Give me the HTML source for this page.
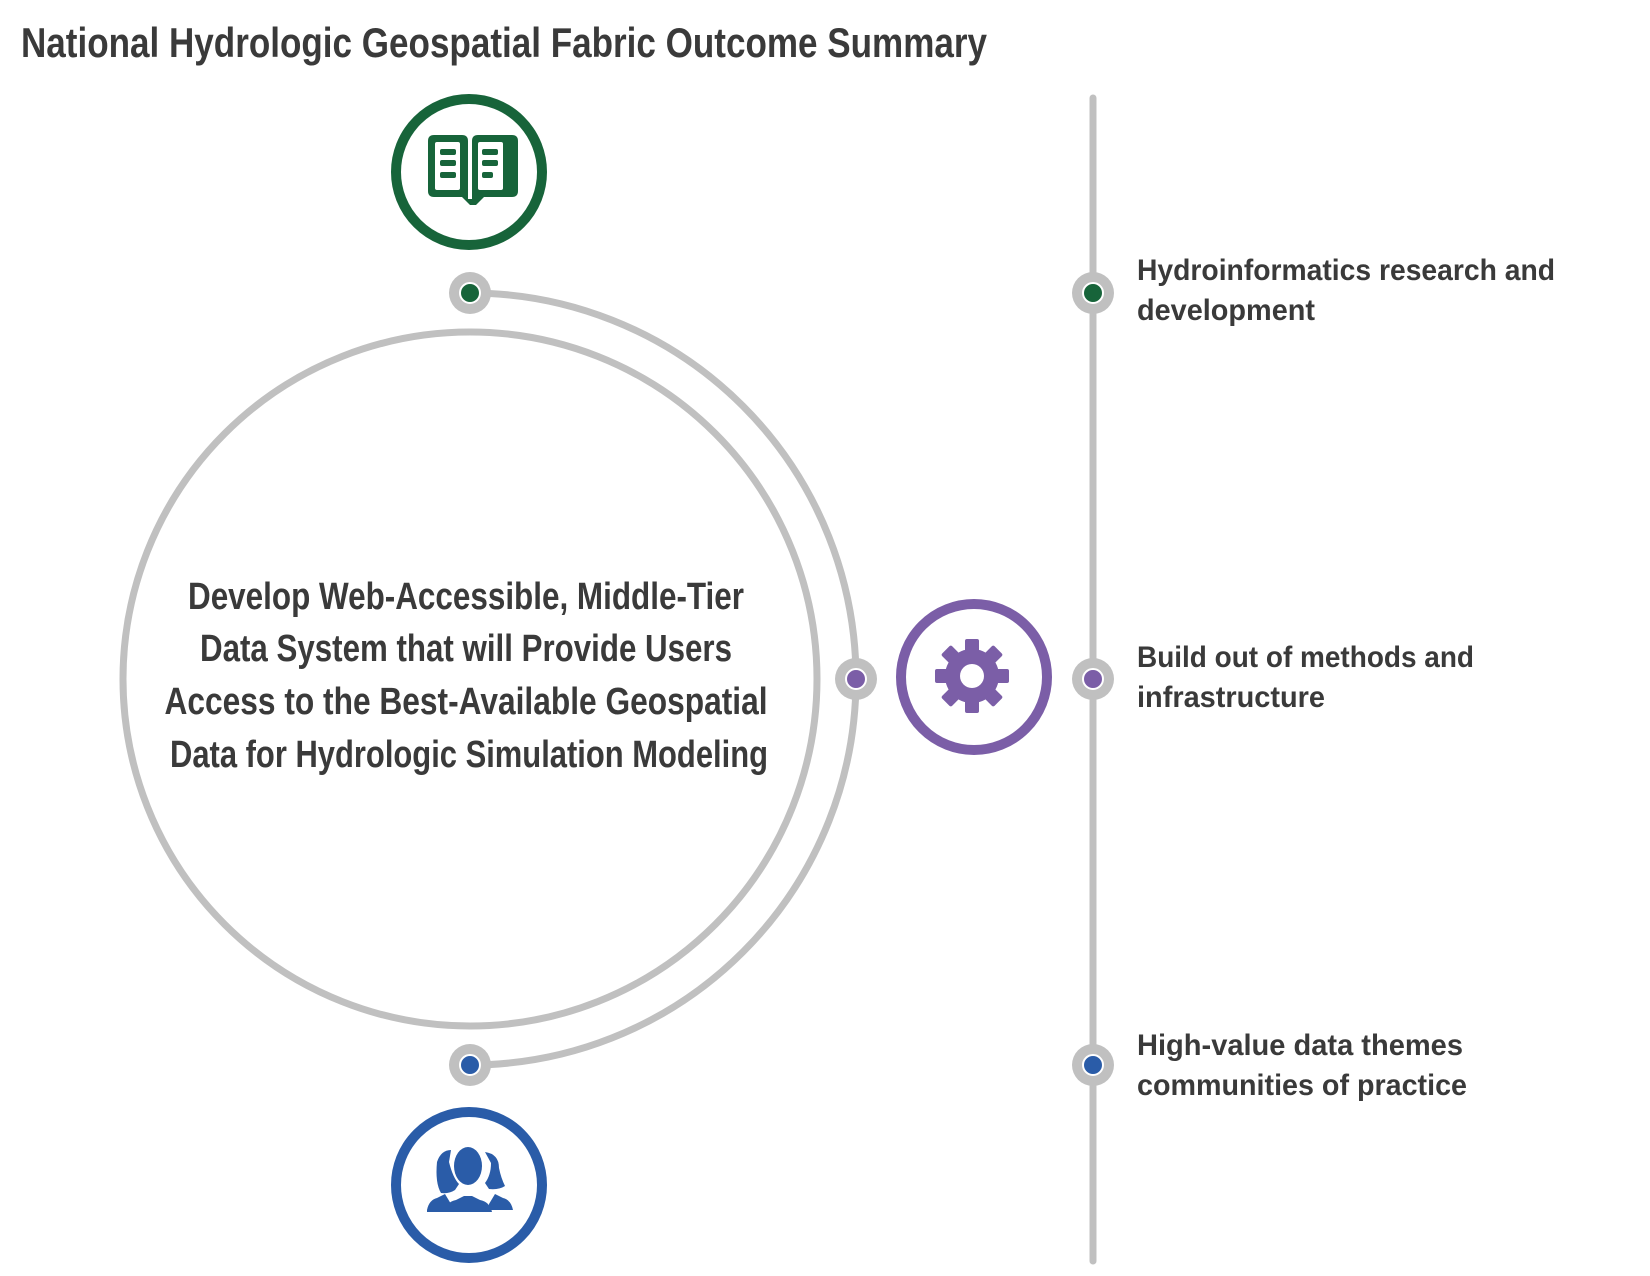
<!DOCTYPE html>
<html><head><meta charset="utf-8"><style>
html,body{margin:0;padding:0;background:#fff;}
svg{display:block;}
text{font-family:"Liberation Sans Narrow","Liberation Sans",sans-serif;fill:#3a3a3a;}
</style></head><body>
<svg width="1650" height="1276" viewBox="0 0 1650 1276" xmlns="http://www.w3.org/2000/svg">
<text x="21" y="57" font-size="42" font-weight="bold" textLength="966" lengthAdjust="spacingAndGlyphs">National Hydrologic Geospatial Fabric Outcome Summary</text>

<line x1="1093" y1="98" x2="1093" y2="1261" stroke="#c0c0c0" stroke-width="7" stroke-linecap="round"/>

<circle cx="470" cy="679" r="347" fill="none" stroke="#c0c0c0" stroke-width="7"/>
<path d="M470 293 A386 386 0 0 1 470 1065" fill="none" stroke="#c0c0c0" stroke-width="7"/>

<g>
<circle cx="470" cy="293" r="21" fill="#c0c0c0"/><circle cx="470" cy="293" r="10" fill="#17643a" stroke="#fff" stroke-width="2"/>
<circle cx="856" cy="679" r="21" fill="#c0c0c0"/><circle cx="856" cy="679" r="10" fill="#7b5ea7" stroke="#fff" stroke-width="2"/>
<circle cx="470" cy="1065" r="21" fill="#c0c0c0"/><circle cx="470" cy="1065" r="10" fill="#2a5ca8" stroke="#fff" stroke-width="2"/>
<circle cx="1093" cy="293" r="21" fill="#c0c0c0"/><circle cx="1093" cy="293" r="10" fill="#17643a" stroke="#fff" stroke-width="2"/>
<circle cx="1093" cy="679" r="21" fill="#c0c0c0"/><circle cx="1093" cy="679" r="10" fill="#7b5ea7" stroke="#fff" stroke-width="2"/>
<circle cx="1093" cy="1065" r="21" fill="#c0c0c0"/><circle cx="1093" cy="1065" r="10" fill="#2a5ca8" stroke="#fff" stroke-width="2"/>
</g>

<circle cx="469" cy="172" r="73" fill="#fff" stroke="#17643a" stroke-width="10"/>
<g fill="#17643a">
<path d="M428 135 h34 q6 0 6 6 v58 h4 v-58 q0 -6 6 -6 h34 q6 0 6 6 v50 q0 6 -6 6 h-28 l-8 8 h-6 l-8 -8 h-28 q-6 0 -6 -6 v-50 q0 -6 6 -6z"/>
</g>
<g fill="#fff">
<rect x="435" y="142" width="25" height="48" rx="2"/>
<rect x="478" y="142" width="25" height="48" rx="2"/>
</g>
<g fill="#17643a">
<rect x="440" y="149" width="16" height="6" rx="2"/><rect x="440" y="160" width="16" height="6" rx="2"/><rect x="440" y="172" width="16" height="6" rx="2"/>
<rect x="482" y="149" width="16" height="6" rx="2"/><rect x="482" y="160" width="16" height="6" rx="2"/><rect x="482" y="172" width="11" height="6" rx="2"/>
</g>

<circle cx="974" cy="677" r="73" fill="#fff" stroke="#7b5ea7" stroke-width="10"/>
<g transform="translate(972,676)" fill="#7b5ea7">
<circle r="27"/>
<g>
<rect x="-7" y="-37" width="14" height="14" rx="2"/>
<rect x="-7" y="-37" width="14" height="14" rx="2" transform="rotate(45)"/>
<rect x="-7" y="-37" width="14" height="14" rx="2" transform="rotate(90)"/>
<rect x="-7" y="-37" width="14" height="14" rx="2" transform="rotate(135)"/>
<rect x="-7" y="-37" width="14" height="14" rx="2" transform="rotate(180)"/>
<rect x="-7" y="-37" width="14" height="14" rx="2" transform="rotate(225)"/>
<rect x="-7" y="-37" width="14" height="14" rx="2" transform="rotate(270)"/>
<rect x="-7" y="-37" width="14" height="14" rx="2" transform="rotate(315)"/>
</g>
<circle r="12" fill="#fff"/>
</g>

<circle cx="469" cy="1185" r="73" fill="#fff" stroke="#2a5ca8" stroke-width="10"/>
<g fill="#2a5ca8">
<path d="M437 1162 q4 -12 14 -12 l-2 12 q4 16 10 22 l-4 6 q-6 4 -14 3 q-6 -10 -4 -31z"/>
<path d="M485 1152 q14 2 14 16 q2 10 6 18 q-6 4 -16 3 l-4 -6 q6 -8 6 -20z"/>
<path d="M427 1210 q2 -10 10 -12 l8 -4 l6 10 v8 h-24z"/>
<path d="M489 1204 l6 -10 l8 4 q8 2 10 12 h-24z"/>
<ellipse cx="468" cy="1166" rx="14" ry="19"/>
<path d="M444 1212 q2 -10 12 -12 l8 -4 h8 l8 4 q10 2 12 12z"/>
</g>

<g font-size="38" font-weight="bold" text-anchor="middle">
<text x="466" y="609" textLength="556" lengthAdjust="spacingAndGlyphs">Develop Web-Accessible, Middle-Tier</text>
<text x="466" y="661" textLength="532" lengthAdjust="spacingAndGlyphs">Data System that will Provide Users</text>
<text x="466" y="714" textLength="603" lengthAdjust="spacingAndGlyphs">Access to the Best-Available Geospatial</text>
<text x="469" y="767" textLength="598" lengthAdjust="spacingAndGlyphs">Data for Hydrologic Simulation Modeling</text>
</g>

<g font-size="30" font-weight="bold">
<text x="1137" y="280" textLength="418" lengthAdjust="spacingAndGlyphs">Hydroinformatics research and</text>
<text x="1137" y="320" textLength="178" lengthAdjust="spacingAndGlyphs">development</text>
<text x="1137" y="667" textLength="337" lengthAdjust="spacingAndGlyphs">Build out of methods and</text>
<text x="1137" y="707" textLength="188" lengthAdjust="spacingAndGlyphs">infrastructure</text>
<text x="1137" y="1055" textLength="326" lengthAdjust="spacingAndGlyphs">High-value data themes</text>
<text x="1137" y="1095" textLength="330" lengthAdjust="spacingAndGlyphs">communities of practice</text>
</g>
</svg>
</body></html>
